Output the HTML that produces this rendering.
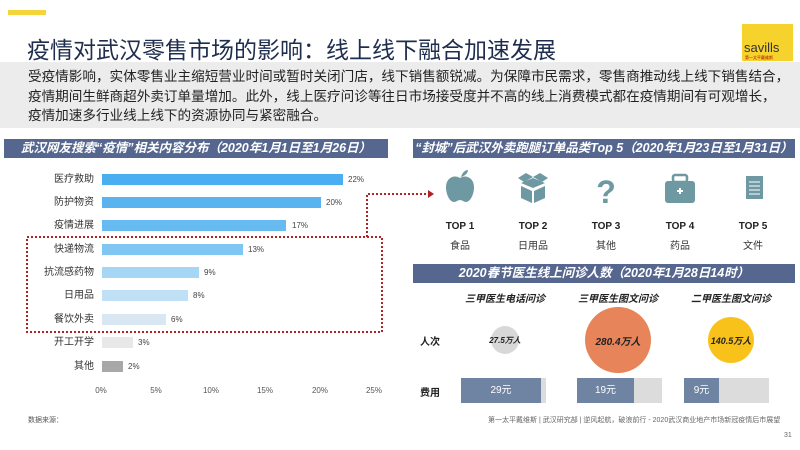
<!DOCTYPE html>
<html><head><meta charset="utf-8"><style>
*{margin:0;padding:0;box-sizing:border-box}
body{width:800px;height:450px;background:#fff;position:relative;overflow:hidden;font-family:"Liberation Sans","Noto Sans CJK SC",sans-serif;color:#222}
.a{position:absolute;white-space:nowrap}
.hdr{position:absolute;height:19px;background:#56678f;color:#fff;font-size:12.5px;font-weight:bold;font-style:italic;line-height:19px;text-align:center}
.lbl{position:absolute;right:706px;font-size:10px;color:#333;line-height:12px}
.bar{position:absolute;left:102px;height:11px}
.val{position:absolute;font-size:8px;color:#444;line-height:11px}
.tk{position:absolute;top:386px;font-size:8px;color:#555;width:30px;text-align:center}
.top{position:absolute;top:221px;width:60px;text-align:center;font-size:10px;font-weight:bold;color:#222}
.sub{position:absolute;top:237px;width:60px;text-align:center;font-size:10px;color:#333}
.ct{position:absolute;top:290px;width:110px;text-align:center;font-size:10px;font-weight:bold;font-style:italic}
.c{position:absolute;border-radius:50%;display:flex;align-items:center;justify-content:center;font-weight:bold;font-style:italic;color:#222;white-space:nowrap}
.fb{position:absolute;top:378px;height:25px;background:#dcdcdc;width:85px}
.fd{position:absolute;top:0;left:0;height:25px;background:#6f83a3;color:#fff;font-size:10px;line-height:25px;text-align:center}
</style></head><body>
<div class="a" style="left:8px;top:10px;width:38px;height:5px;background:#f4d63a"></div>
<div class="a" style="left:27px;top:31px;font-size:23px;color:#1f2d4e">疫情对武汉零售市场的影响：线上线下融合加速发展</div>
<div class="a" style="left:742px;top:24px;width:51px;height:37px;background:#f5d22c"><div style="position:absolute;left:2px;top:16px;font-size:13px;color:#333">savills</div><div style="position:absolute;left:3px;top:31px;font-size:4px;color:#a00">第一太平戴维斯</div></div>
<div class="a" style="left:0;top:62px;width:800px;height:66px;background:#ececec"></div>
<div class="a" style="left:28px;top:67px;font-size:13.6px;line-height:19.5px;color:#222">受疫情影响，实体零售业主缩短营业时间或暂时关闭门店，线下销售额锐减。为保障市民需求，零售商推动线上线下销售结合，<br>疫情期间生鲜商超外卖订单量增加。此外，线上医疗问诊等往日市场接受度并不高的线上消费模式都在疫情期间有可观增长，<br>疫情加速多行业线上线下的资源协同与紧密融合。</div>

<div class="hdr" style="left:4px;top:139px;width:384px">武汉网友搜索“疫情”相关内容分布（2020年1月1日至1月26日）</div>
<div class="hdr" style="left:413px;top:139px;width:382px">“封城”后武汉外卖跑腿订单品类Top 5（2020年1月23日至1月31日）</div>

<div class="lbl" style="top:174px">医疗救助</div><div class="bar" style="top:174px;width:241px;background:#4aaef0"></div><div class="val" style="left:348px;top:174px">22%</div>
<div class="lbl" style="top:197px">防护物资</div><div class="bar" style="top:197px;width:219px;background:#58b3ef"></div><div class="val" style="left:326px;top:197px">20%</div>
<div class="lbl" style="top:220px">疫情进展</div><div class="bar" style="top:220px;width:184px;background:#68bbf0"></div><div class="val" style="left:292px;top:220px">17%</div>
<div class="lbl" style="top:244px">快递物流</div><div class="bar" style="top:244px;width:141px;background:#80c6f2"></div><div class="val" style="left:248px;top:244px">13%</div>
<div class="lbl" style="top:267px">抗流感药物</div><div class="bar" style="top:267px;width:97px;background:#a6d6f5"></div><div class="val" style="left:204px;top:267px">9%</div>
<div class="lbl" style="top:290px">日用品</div><div class="bar" style="top:290px;width:86px;background:#c0e0f5"></div><div class="val" style="left:193px;top:290px">8%</div>
<div class="lbl" style="top:314px">餐饮外卖</div><div class="bar" style="top:314px;width:64px;background:#d8e7f1"></div><div class="val" style="left:171px;top:314px">6%</div>
<div class="lbl" style="top:337px">开工开学</div><div class="bar" style="top:337px;width:31px;background:#e8e8e8"></div><div class="val" style="left:138px;top:337px">3%</div>
<div class="lbl" style="top:361px">其他</div><div class="bar" style="top:361px;width:21px;background:#a8a8a8"></div><div class="val" style="left:128px;top:361px">2%</div>
<div class="tk" style="left:86px">0%</div><div class="tk" style="left:141px">5%</div><div class="tk" style="left:196px">10%</div><div class="tk" style="left:250px">15%</div><div class="tk" style="left:305px">20%</div><div class="tk" style="left:359px">25%</div>
<div class="a" style="left:28px;top:415px;font-size:7px;color:#555">数据来源：</div>

<svg class="a" style="left:0;top:0" width="800" height="450">
<rect x="27" y="237" width="355" height="95" fill="none" stroke="#b22222" stroke-width="2" stroke-dasharray="2,2"/>
<polyline points="367,237 367,194 428,194" fill="none" stroke="#b22222" stroke-width="2" stroke-dasharray="2,2"/>
<polygon points="428,190 434,194 428,198" fill="#b22222"/>
<g fill="#6e98a2">
<path d="M460,178 c-6,-4 -14,0 -14,9 c0,8 4,15 8,15 c2,0 4,-2 6,-2 c2,0 4,2 6,2 c4,0 8,-7 8,-15 c0,-9 -8,-13 -14,-9z"/>
<path d="M461,177 c1,-4 4,-7 7,-7 c0,3 -3,6 -7,7z"/>
<path d="M521,183 l12,-5 12,5 -12,5z M521,186 l11,5 v12 l-11,-5z M545,186 l-11,5 v12 l11,-5z M518,178 l8,-5 7,4 -9,5z M548,178 l-8,-5 -7,4 9,5z"/>
<text x="606" y="203" font-size="32" font-weight="bold" text-anchor="middle" font-family="Liberation Sans">?</text>
<rect x="665" y="181" width="30" height="22" rx="3"/><rect x="673" y="175" width="14" height="7" rx="2" fill="none" stroke="#6e98a2" stroke-width="2.5"/>
<rect x="746" y="176" width="17" height="23"/>
</g>
<rect x="677" y="190" width="6" height="2" fill="#fff"/><rect x="679" y="188" width="2" height="6" fill="#fff"/>
<g stroke="#fff" stroke-width="1"><line x1="749" y1="182" x2="760" y2="182"/><line x1="749" y1="186" x2="760" y2="186"/><line x1="749" y1="190" x2="760" y2="190"/><line x1="749" y1="194" x2="760" y2="194"/></g>
</svg>
<div class="top" style="left:430px">TOP 1</div><div class="sub" style="left:430px">食品</div>
<div class="top" style="left:503px">TOP 2</div><div class="sub" style="left:503px">日用品</div>
<div class="top" style="left:576px">TOP 3</div><div class="sub" style="left:576px">其他</div>
<div class="top" style="left:650px">TOP 4</div><div class="sub" style="left:650px">药品</div>
<div class="top" style="left:723px">TOP 5</div><div class="sub" style="left:723px">文件</div>

<div class="hdr" style="left:413px;top:264px;width:382px">2020春节医生线上问诊人数（2020年1月28日14时）</div>
<div class="ct" style="left:450px">三甲医生电话问诊</div>
<div class="ct" style="left:563px">三甲医生图文问诊</div>
<div class="ct" style="left:676px">二甲医生图文问诊</div>
<div class="a" style="left:420px;top:333px;font-size:10px;font-weight:bold">人次</div>
<div class="c" style="left:491px;top:326px;width:28px;height:28px;background:#d8d8d8;font-size:8px">27.5万人</div>
<div class="c" style="left:585px;top:307px;width:66px;height:66px;background:#e8845a;font-size:10px">280.4万人</div>
<div class="c" style="left:708px;top:317px;width:46px;height:46px;background:#f8c21a;font-size:9px">140.5万人</div>
<div class="a" style="left:420px;top:384px;font-size:10px;font-weight:bold">费用</div>
<div class="fb" style="left:461px"><div class="fd" style="width:80px">29元</div></div>
<div class="fb" style="left:577px"><div class="fd" style="width:57px">19元</div></div>
<div class="fb" style="left:684px"><div class="fd" style="width:35px">9元</div></div>
<div class="a" style="left:488px;top:415px;font-size:7px;color:#666">第一太平戴维斯 | 武汉研究部 | 逆风起航，破浪前行 - 2020武汉商业地产市场新冠疫情后市展望</div>
<div class="a" style="left:784px;top:432px;font-size:7px;color:#666">31</div>
</body></html>
